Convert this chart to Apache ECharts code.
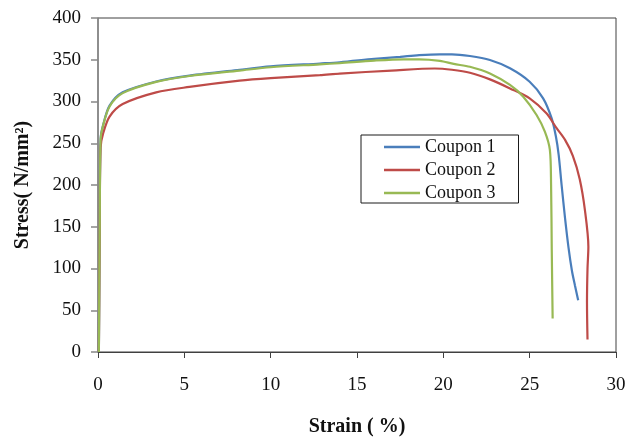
<!DOCTYPE html>
<html>
<head>
<meta charset="utf-8">
<script src="https://cdn.jsdelivr.net/npm/echarts@6/dist/echarts.min.js"></script>
<style>
  html, body { margin: 0; padding: 0; background: #fff; }
  #chart { width: 630px; height: 438px; }
</style>
</head>
<body>
<div id="chart"></div>
<script>
// Tensile test results: engineering stress vs strain for three coupons
const seriesNames = ['Coupon 1', 'Coupon 2', 'Coupon 3'];

const coupon1Strain = [0.05, 0.1, 0.15, 0.3, 0.67, 1.43, 3.37, 5.3, 8.2, 10, 12.85, 14, 16, 17.5, 18.6, 19.8, 20.5, 21.54, 22.7, 23.86, 25.0, 25.78, 26.27, 26.52, 26.68, 26.85, 27.05, 27.25, 27.45, 27.62, 27.81];
const coupon1Stress = [0, 150, 255, 272, 295, 311, 324, 331, 338, 342, 345.5, 347, 351, 353.5, 355.5, 356.5, 356.5, 354.5, 349.7, 339.8, 323.7, 303.8, 280, 258, 236, 200, 160, 125, 97, 80, 62];

const coupon2Strain = [0.05, 0.1, 0.15, 0.3, 0.67, 1.43, 3.37, 5.3, 8.2, 10, 12.85, 14, 17, 19.5, 20.5, 21.54, 22.7, 23.86, 25.0, 25.97, 26.56, 27.05, 27.5, 27.9, 28.2, 28.4, 28.35, 28.32, 28.35];
const coupon2Stress = [0, 150, 245, 262, 282, 297, 311, 317.5, 325, 328, 331.5, 333.5, 337, 339.5, 338, 334.5, 326.5, 315.7, 303.8, 285.8, 268, 254, 235, 207, 170, 126, 100, 60, 15];

const coupon3Strain = [0.05, 0.1, 0.15, 0.28, 0.67, 1.43, 3.37, 5.3, 8.2, 10, 12.85, 14, 16, 17.7, 18.6, 19.8, 20.6, 21.54, 22.7, 23.86, 24.63, 25.4, 25.88, 26.17, 26.24, 26.28, 26.33];
const coupon3Stress = [0, 150, 255, 270, 294, 310, 323.5, 330.5, 337, 341, 344.5, 346, 349, 350.5, 350.5, 348.7, 345, 341.6, 333.6, 319.8, 305.8, 283.8, 263.8, 242, 200, 122, 40];

const xTicks = { min: 0, max: 30, interval: 5 };
const yTicks = { min: 0, max: 400, interval: 50 };

const colors = ['#4a7ebb', '#be4b48', '#98b954'];

function pairs(xs, ys) {
  return xs.map((x, i) => [x, ys[i]]);
}

const strains = [coupon1Strain, coupon2Strain, coupon3Strain];
const stresses = [coupon1Stress, coupon2Stress, coupon3Stress];

const serif = '"Liberation Serif", "DejaVu Serif", serif';

const chart = echarts.init(document.getElementById('chart'), null, { renderer: 'canvas' });

chart.setOption({
  animation: false,
  backgroundColor: '#ffffff',
  color: colors,
  grid: {
    left: 98, right: 14, top: 18, bottom: 86,
    outerBoundsMode: 'none',
    show: true, borderColor: '#404040', borderWidth: 1, backgroundColor: 'transparent'
  },
  legend: {
    orient: 'vertical',
    left: 361, top: 135,
    padding: [3, 23, 1, 23],
    icon: 'rect',
    itemWidth: 36, itemHeight: 2.5, itemGap: 5,
    borderColor: '#1a1a1a', borderWidth: 1,
    data: seriesNames,
    textStyle: { fontFamily: serif, fontSize: 18, lineHeight: 18, color: '#111' }
  },
  xAxis: {
    type: 'value',
    min: xTicks.min, max: xTicks.max, interval: xTicks.interval,
    name: 'Strain ( %)',
    nameLocation: 'middle',
    nameGap: 65,
    nameTextStyle: { fontFamily: serif, fontSize: 20, fontWeight: 'bold', color: '#111' },
    axisLine: { show: true, lineStyle: { color: '#404040', width: 1 } },
    axisTick: { show: true, inside: false, length: 6, lineStyle: { color: '#404040' } },
    axisLabel: { margin: 24, fontFamily: serif, fontSize: 19, color: '#111' },
    splitLine: { show: false }
  },
  yAxis: {
    type: 'value',
    min: yTicks.min, max: yTicks.max, interval: yTicks.interval,
    name: 'Stress( N/mm²)',
    nameLocation: 'middle',
    nameGap: 65,
    nameRotate: 90,
    nameTextStyle: { fontFamily: serif, fontSize: 20, fontWeight: 'bold', color: '#111' },
    axisLine: { show: true, lineStyle: { color: '#888888', width: 1.5 } },
    axisTick: { show: true, inside: false, length: 7, lineStyle: { color: '#888888', width: 1.5 } },
    axisLabel: { margin: 17, fontFamily: serif, fontSize: 19, color: '#111' },
    splitLine: { show: false }
  },
  series: seriesNames.map((name, i) => ({
    name: name,
    type: 'line',
    data: pairs(strains[i], stresses[i]),
    symbol: 'none',
    smooth: 0.3,
    lineStyle: { width: 2.2, color: colors[i] },
    itemStyle: { color: colors[i] }
  }))
});
</script>
</body>
</html>
